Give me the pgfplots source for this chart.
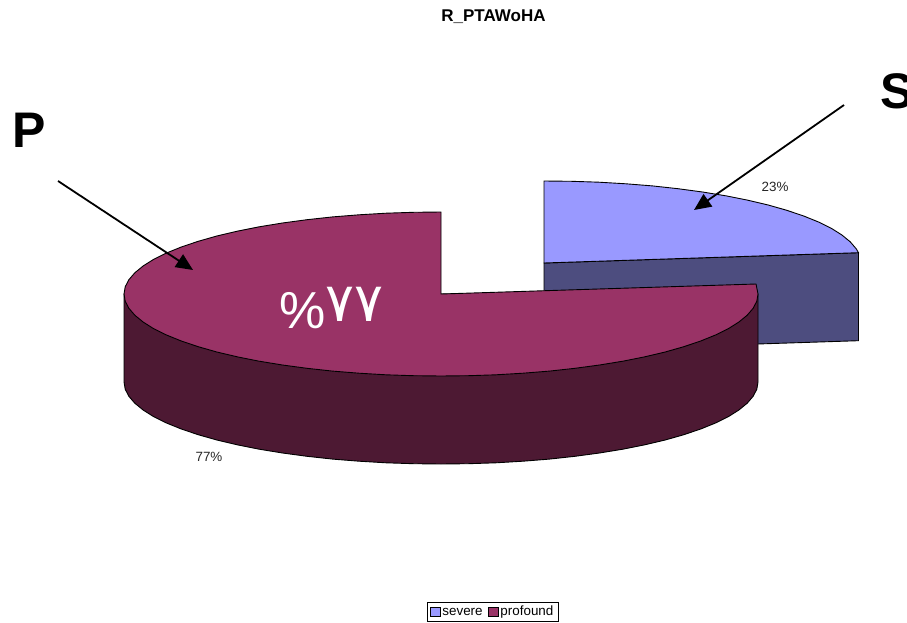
\documentclass[border=0pt]{standalone}
\usepackage{pgfplots}
\pgfplotsset{compat=1.18}
\usepackage{fontspec}
\usetikzlibrary{arrows.meta}
\setmainfont{Liberation Sans}
\newfontfamily\arabicfont[Script=Arabic]{DejaVu Sans}
\definecolor{sevTop}{HTML}{9999FF}
\definecolor{sevSide}{HTML}{4D4D7F}
\definecolor{proTop}{HTML}{993366}
\definecolor{proSide}{HTML}{4D1933}
\begin{document}
\begin{tikzpicture}
\path[use as bounding box] (0,0) rectangle (907pt,623pt);
\begin{axis}[
  scale only axis, width=907pt, height=623pt,
  xmin=0, xmax=907, ymin=0, ymax=623, y dir=reverse,
  hide axis,
  legend columns=2,
  legend cell align=left,
  legend style={at={(axis cs:492.5,611.5)}, anchor=center, draw=black, line width=0.7pt,
    font=\fontsize{13.4}{15}\selectfont, inner xsep=2.5pt, inner ysep=1pt,
    nodes={text height=10pt, text depth=3pt},
    /tikz/every even column/.append style={column sep=3pt}},
]
% severe: cut face
\addplot[draw=black, line width=0.9pt, fill=sevSide, forget plot] coordinates {
 (544,263) (858.5,252.7) (858.5,340.7) (544,351)} -- cycle;
% severe: top
\addplot[draw=black, line width=0.9pt, fill=sevTop,
  legend image code/.code={\draw[draw=black, line width=0.8pt, fill=sevTop] (0pt,-4.5pt) rectangle (10pt,4.5pt);}] coordinates {
 (544,263) (544,181) (571.6,181.3) (599,182.2) (626,183.8) (652.4,185.9) (678,188.7)
 (702.5,192) (725.8,195.8) (747.8,200.2) (768.2,205) (786.8,210.3) (803.7,216)
 (818.5,222) (831.3,228.3) (841.9,235) (850.2,241.8) (856.2,248.8) (858.5,252.7)} -- cycle;
\addlegendentry{severe}
% profound: rim side
\addplot[draw=black, line width=0.9pt, fill=proSide, forget plot] coordinates {
 (124,294) (124,382) (125.2,389.2) (128.8,396.2) (134.8,403.2) (143.1,410) (153.7,416.7)
 (166.5,423) (181.3,429) (198.2,434.7) (216.8,440) (237.2,444.8) (259.2,449.2) (282.5,453)
 (307,456.3) (332.6,459.1) (359,461.2) (386,462.8) (413.4,463.7) (441,464) (468.6,463.7)
 (496,462.8) (523,461.2) (549.4,459.1) (575,456.3) (599.5,453) (622.8,449.2) (644.8,444.8)
 (665.2,440) (683.8,434.7) (700.7,429) (715.5,423) (728.3,416.7) (738.9,410) (747.2,403.2)
 (753.2,396.2) (756.8,389.2) (758,382) (758,294)} -- cycle;
% profound: top
\addplot[draw=black, line width=0.9pt, fill=proTop,
  legend image code/.code={\draw[draw=black, line width=0.8pt, fill=proTop] (0pt,-4.5pt) rectangle (10pt,4.5pt);}] coordinates {
 (441,294) (441,212) (413.4,212.3) (386,213.2) (359,214.8) (332.6,216.9) (307,219.7)
 (282.5,223) (259.2,226.8) (237.2,231.2) (216.8,236) (198.2,241.3) (181.3,247) (166.5,253)
 (153.7,259.3) (143.1,266) (134.8,272.8) (128.8,279.8) (125.2,286.8) (124,294)
 (125.2,301.2) (128.8,308.2) (134.8,315.2) (143.1,322) (153.7,328.7) (166.5,335)
 (181.3,341) (198.2,346.7) (216.8,352) (237.2,356.8) (259.2,361.2) (282.5,365) (307,368.3)
 (332.6,371.1) (359,373.2) (386,374.8) (413.4,375.7) (441,376) (468.6,375.7) (496,374.8)
 (523,373.2) (549.4,371.1) (575,368.3) (599.5,365) (622.8,361.2) (644.8,356.8) (665.2,352)
 (683.8,346.7) (700.7,341) (715.5,335) (728.3,328.7) (738.9,322) (747.2,315.2) (753.2,308.2)
 (756.8,301.2) (758,294) (756,284)} -- cycle;
\addlegendentry{profound}
% arrows
\addplot[black, line width=1.8pt, forget plot, -{Triangle[length=17pt,width=15pt]}] coordinates {(58,181) (193,270)};
\addplot[black, line width=1.8pt, forget plot, -{Triangle[length=17pt,width=15pt]}] coordinates {(844,105) (694,210)};
% text
\node[anchor=center, font=\bfseries\fontsize{17}{19}\selectfont] at (axis cs:493.5,16.5) {R\_PTAWoHA};
\node[anchor=center, font=\fontsize{13.4}{15}\selectfont, text=black!85] at (axis cs:775,186.5) {23\%};
\node[anchor=center, font=\fontsize{13.4}{15}\selectfont, text=black!85] at (axis cs:209,456.5) {77\%};
\node[anchor=base west, inner sep=0pt, font=\bfseries\fontsize{50}{60}\selectfont] at (axis cs:12,147) {P};
\node[anchor=base west, inner sep=0pt, font=\bfseries\fontsize{50}{60}\selectfont] at (axis cs:880,109) {S};
\node[anchor=base west, inner sep=0pt, text=white, font=\fontsize{52}{60}\selectfont] at (axis cs:279,328) {\%};
\node[anchor=base west, inner sep=0pt, text=white, font=\arabicfont\fontsize{54}{60}\selectfont] at (axis cs:325,321) {٧};
\node[anchor=base west, inner sep=0pt, text=white, font=\arabicfont\fontsize{54}{60}\selectfont] at (axis cs:354,321) {٧};
\end{axis}
\end{tikzpicture}
\end{document}
